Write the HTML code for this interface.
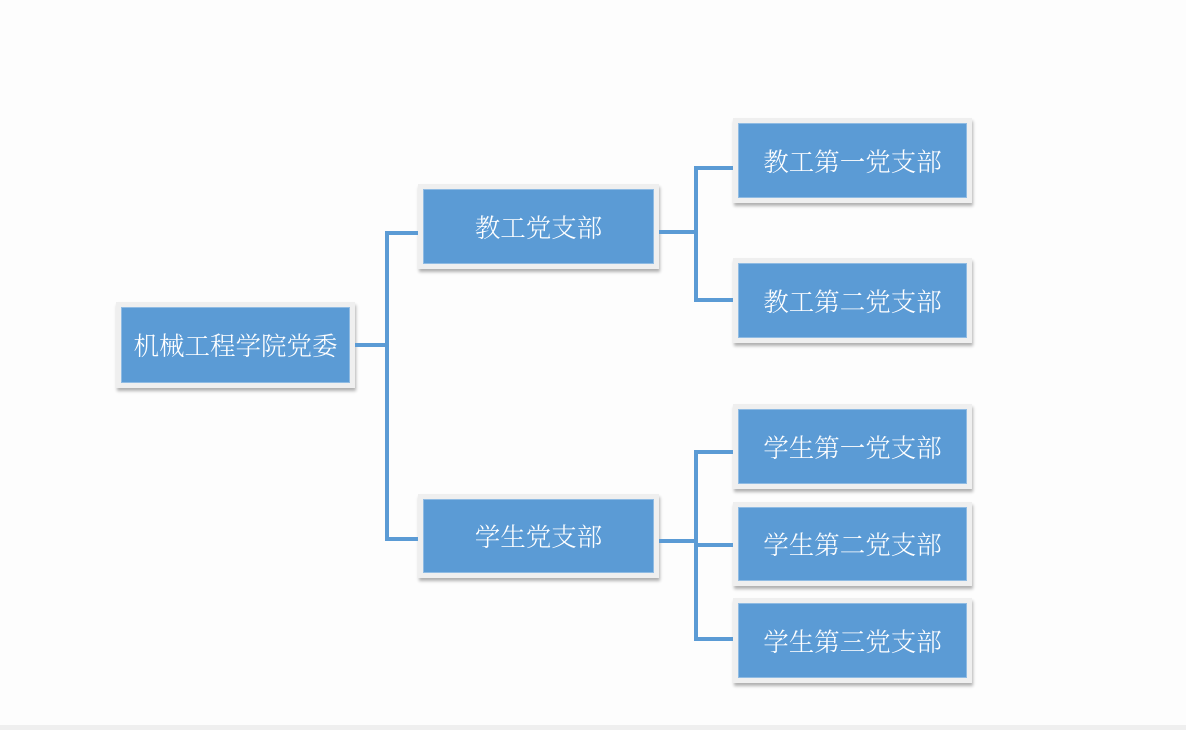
<!DOCTYPE html>
<html><head><meta charset="utf-8"><style>
body{margin:0;width:1186px;height:730px;background:#fdfdfd;position:relative;overflow:hidden;font-family:"Liberation Serif","Noto Serif CJK SC",serif}
.b{position:absolute;background:#efefef;box-shadow:1px 3px 3px rgba(0,0,0,.3);box-sizing:border-box;padding:5px}
.b div{width:100%;height:100%;background:#5b9bd5;border:1px solid #8fbbe3;box-sizing:border-box;color:#fff;font-size:25.5px;font-weight:300;display:flex;align-items:center;justify-content:center}
.l{position:absolute;background:#5b9bd5}
</style></head><body>
<div class="b" style="left:116px;top:302px;width:239px;height:86px"><div>机械工程学院党委</div></div>
<div class="b" style="left:418px;top:184px;width:241px;height:85px"><div>教工党支部</div></div>
<div class="b" style="left:418px;top:494px;width:241px;height:84px"><div>学生党支部</div></div>
<div class="b" style="left:733px;top:118px;width:239px;height:85px"><div>教工第一党支部</div></div>
<div class="b" style="left:733px;top:258px;width:239px;height:85px"><div>教工第二党支部</div></div>
<div class="b" style="left:733px;top:404px;width:239px;height:85px"><div>学生第一党支部</div></div>
<div class="b" style="left:733px;top:502px;width:239px;height:84px"><div>学生第二党支部</div></div>
<div class="b" style="left:733px;top:598px;width:239px;height:85px"><div>学生第三党支部</div></div>
<div class="l" style="left:355px;top:343px;width:32px;height:4px"></div>
<div class="l" style="left:385px;top:231px;width:4px;height:310px"></div>
<div class="l" style="left:385px;top:231px;width:33px;height:4px"></div>
<div class="l" style="left:385px;top:537px;width:33px;height:4px"></div>
<div class="l" style="left:659px;top:230px;width:37px;height:4px"></div>
<div class="l" style="left:694px;top:166px;width:4px;height:136px"></div>
<div class="l" style="left:694px;top:166px;width:39px;height:4px"></div>
<div class="l" style="left:694px;top:298px;width:39px;height:4px"></div>
<div class="l" style="left:659px;top:539px;width:37px;height:4px"></div>
<div class="l" style="left:694px;top:450px;width:4px;height:191px"></div>
<div class="l" style="left:694px;top:450px;width:39px;height:4px"></div>
<div class="l" style="left:694px;top:543px;width:39px;height:4px"></div>
<div class="l" style="left:694px;top:637px;width:39px;height:4px"></div>
<div style="position:absolute;left:0;top:725px;width:1186px;height:5px;background:#efefef"></div>
</body></html>
